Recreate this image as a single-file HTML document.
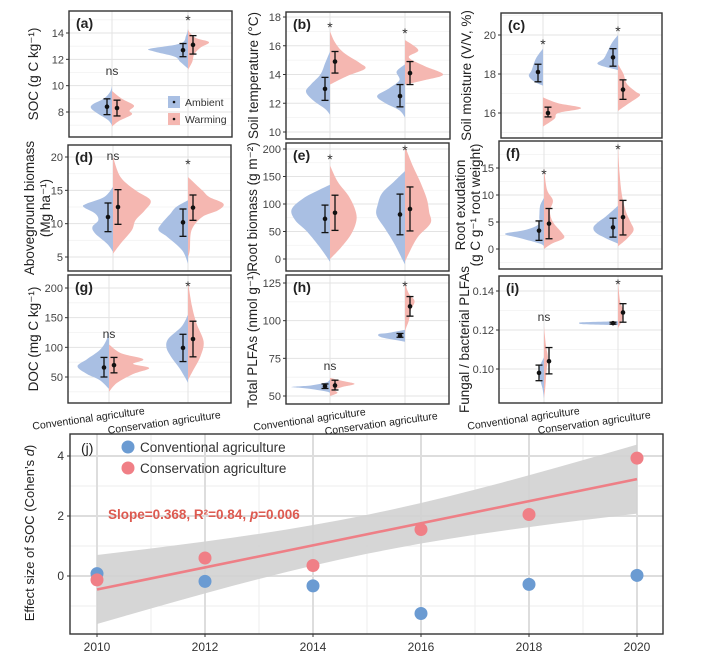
<!DOCTYPE html>
<html><head><meta charset="utf-8"><style>
html,body{margin:0;padding:0;background:#fff;}
svg{display:block;font-family:"Liberation Sans",sans-serif;}
</style></head><body>
<svg id="fig" width="701" height="659" viewBox="0 0 701 659" xmlns="http://www.w3.org/2000/svg"></svg>
<script>
// ---------- DATA (order: conv-ambient, conv-warming, cons-ambient, cons-warming) ----------
const A_ticks=[8,10,12,14];
const A_means=[8.4,8.3,12.7,13.1];
const A_lo=[7.8,7.7,12.2,12.4];
const A_hi=[9.0,8.9,13.2,13.8];
const A_peak=[0.70,0.73,1.27,0.70];
const A_viol=[[[10,0],[9.5,0.1],[9,0.4],[8.6,0.9],[8.3,1],[7.9,0.7],[7.4,0.2],[7,0]],
 [[9.6,0],[9,0.45],[8.5,1],[8.1,0.8],[7.8,0.9],[7.3,0.3],[6.9,0]],
 [[14.3,0],[13.8,0.05],[13.2,0.2],[12.8,1],[12.6,0.9],[12.2,0.35],[11.8,0.2],[11.3,0]],
 [[14.3,0],[14,0.1],[13.6,0.4],[13.3,1],[12.9,0.6],[12.4,0.3],[11.8,0.2],[11.2,0]]];

const B_ticks=[10,12,14,16,18];
const B_means=[13.0,14.9,12.5,14.1];
const B_lo=[12.2,14.1,11.75,13.3];
const B_hi=[13.8,15.6,13.3,14.9];
const B_peak=[0.8,1.17,0.93,1.27];
const B_viol=[[[15.6,0],[14.8,0.2],[14,0.4],[13.3,0.8],[12.8,1],[12.2,0.7],[11.6,0.2],[11.2,0]],
 [[17,0],[16.2,0.15],[15.5,0.4],[14.8,0.85],[14.4,1],[13.9,0.5],[13.3,0]],
 [[14.7,0],[14.2,0.3],[13.6,0.2],[13,0.6],[12.5,1],[12,0.7],[11.5,0.2],[11,0]],
 [[16.4,0],[15.7,0.35],[15.2,0.1],[14.6,0.5],[14,1],[13.6,0.5],[13.3,0]]];

const C_ticks=[16,18,20];
const C_means=[18.1,16.0,18.85,17.2];
const C_lo=[17.6,15.8,18.4,16.7];
const C_hi=[18.5,16.3,19.3,17.7];
const C_peak=[0.47,1.27,0.67,0.73];
const C_viol=[[[19.3,0],[18.8,0.5],[18.2,0.8],[17.9,1],[17.6,0.6],[17.4,0]],
 [[16.8,0],[16.5,0.4],[16.25,1],[16,0.4],[15.7,0.3],[15.3,0]],
 [[20,0],[19.6,0.3],[19.2,0.5],[18.8,0.7],[18.5,1],[18.2,0]],
 [[18.5,0],[18,0.25],[17.5,0.4],[17.1,0.8],[16.9,1],[16.5,0.5],[16.1,0]]];

const D_ticks=[5,10,15,20];
const D_means=[11.0,12.5,10.2,12.4];
const D_lo=[8.8,9.9,8.1,10.5];
const D_hi=[13.1,15.1,12.2,14.3];
const D_peak=[0.98,1.25,0.98,1.18];
const D_viol=[[[15.5,0],[14,0.3],[13,0.9],[12.5,1],[11.5,0.6],[10.5,0.5],[9.5,0.7],[8.5,0.6],[7,0.2],[5.8,0]],
 [[20,0],[17,0.2],[15,0.6],[13.5,1],[12,0.85],[10.5,0.6],[9,0.5],[7,0.2],[5.5,0]],
 [[13.5,0],[12.5,0.4],[11.5,0.6],[10,0.9],[9,1],[8,0.7],[6,0.2],[4,0]],
 [[17,0],[15,0.4],[14,0.6],[13,1],[12,0.85],[11,0.4],[9,0.1],[6,0.05],[5,0]]];

const E_ticks=[0,50,100,150,200];
const E_means=[73,84,81,91];
const E_lo=[48,52,44,51];
const E_hi=[98,116,118,131];
const E_peak=[1.28,0.88,0.95,0.85];
const E_viol=[[[135,0],[125,0.3],[110,0.7],[90,1],[70,0.9],[50,0.6],[20,0.25],[-5,0]],
 [[170,0],[140,0.3],[115,0.7],[90,0.95],[70,1],[45,0.8],[20,0.4],[0,0]],
 [[160,0],[140,0.4],[120,0.8],[100,0.95],[80,1],[55,0.7],[30,0.4],[0,0.1],[-10,0]],
 [[205,0],[170,0.3],[140,0.6],[110,0.85],[85,0.95],[65,1],[40,0.5],[10,0.15],[-5,0]]];

const F_ticks=[0,5,10,15];
const F_means=[3.4,4.7,4.0,5.9];
const F_lo=[1.6,1.9,2.2,2.6];
const F_hi=[5.2,7.5,5.7,9.0];
const F_peak=[1.3,0.66,0.82,0.52];
const F_viol=[[[9.5,0],[8,0.1],[6,0.12],[4.5,0.15],[3.5,0.5],[2.8,1],[2,0.6],[1,0.1],[0.5,0]],
 [[15,0],[11,0.15],[9,0.45],[7,0.3],[5,0.45],[3,0.9],[2,1],[1,0.4],[0,0]],
 [[8,0],[6,0.5],[5,0.8],[4,1],[3,0.9],[2,0.5],[1,0]],
 [[19,0],[14,0.1],[10,0.25],[7,0.5],[5,0.8],[3.5,1],[2,0.6],[0.5,0]]];

const G_ticks=[50,100,150,200];
const G_means=[66,70,99,114];
const G_lo=[50,57,76,84];
const G_hi=[83,83,122,144];
const G_peak=[1.05,1.34,0.72,0.52];
const G_viol=[[[125,0],[110,0.1],[95,0.3],[80,0.7],[68,1],[55,0.7],[45,0.3],[30,0]],
 [[105,0],[90,0.3],[80,0.85],[72,0.6],[65,1],[55,0.6],[40,0.2],[25,0]],
 [[155,0],[135,0.3],[115,0.9],[100,1],[85,0.8],[65,0.4],[50,0.15],[40,0]],
 [[210,0],[170,0.25],[140,0.55],[110,1],[85,0.8],[60,0.3],[45,0]]];

const H_ticks=[50,75,100,125];
const H_means=[56.5,57,90,109.5];
const H_lo=[55,54,89,103];
const H_hi=[58,60.5,91.5,116];
const H_peak=[1.28,0.82,0.88,0.32];
const H_viol=[[[61,0],[59,0.1],[57,0.5],[56,1],[55,0.6],[53,0.1],[52,0]],
 [[62,0],[60,0.5],[58,1],[56,0.5],[54,0.2],[52,0.3],[50,0]],
 [[94,0],[92,0.6],[91,1],[89,0.9],[87,0.3],[86,0]],
 [[125,0],[118,0.4],[113,1],[107,0.6],[100,0.4],[95,0.1],[92,0]]];

const I_ticks=[0.10,0.12,0.14];
const I_means=[0.098,0.104,0.1235,0.129];
const I_lo=[0.094,0.0975,0.123,0.124];
const I_hi=[0.102,0.111,0.124,0.1335];
const I_peak=[0.17,0.13,1.28,0.17];
const I_viol=[[[0.106,0],[0.1,1],[0.095,0.8],[0.09,0.3],[0.085,0]],
 [[0.122,0],[0.112,0.5],[0.106,1],[0.1,0.7],[0.09,0.3],[0.085,0]],
 [[0.1245,0],[0.124,0.9],[0.1235,1],[0.123,0.9],[0.1225,0]],
 [[0.145,0],[0.135,0.4],[0.13,1],[0.125,0.8],[0.121,0]]];

// panel (j)
const J_years=[2010,2012,2014,2016,2018,2020];
const J_conventional=[0.08,-0.18,-0.33,-1.25,-0.28,0.02];
const J_conservation=[-0.13,0.6,0.35,1.55,2.05,3.93];
const J_xticks=[2010,2012,2014,2016,2018,2020];
const J_yticks=[0,2,4];
const J_fit=[-0.45,0.368]; // value at 2010, slope per year
const J_ciScale=[1.59];

// ---------- LAYOUT ----------
const NS="http://www.w3.org/2000/svg";
const svg=document.getElementById('fig');
function el(tag,attrs,parent){const e=document.createElementNS(NS,tag);for(const k in attrs)e.setAttribute(k,attrs[k]);(parent||svg).appendChild(e);return e;}
function smooth(p){let d=`M${p[0][0].toFixed(1)},${p[0][1].toFixed(1)}`;const n=p.length;
 for(let i=0;i<n-1;i++){const p0=p[Math.max(i-1,0)],p1=p[i],p2=p[i+1],p3=p[Math.min(i+2,n-1)];
 const c1=[p1[0]+(p2[0]-p0[0])/6,p1[1]+(p2[1]-p0[1])/6],c2=[p2[0]-(p3[0]-p1[0])/6,p2[1]-(p3[1]-p1[1])/6];
 d+=` C${c1[0].toFixed(1)},${c1[1].toFixed(1)} ${c2[0].toFixed(1)},${c2[1].toFixed(1)} ${p2[0].toFixed(1)},${p2[1].toFixed(1)}`;}
 return d+' Z';}

const panels=[
 {id:'a',box:[69,11,232,137],xc:[112,188],ref:[14,33,8,112],ticks:A_ticks,means:A_means,lo:A_lo,hi:A_hi,peak:A_peak,viol:A_viol,dec:0,
  title:['SOC (g C kg⁻¹)'],tx:[33],sig:[['ns',0,71],['*',1,21]],legend:true},
 {id:'b',box:[286,12,450,139],xc:[330,405],ref:[18,17,10,132],ticks:B_ticks,means:B_means,lo:B_lo,hi:B_hi,peak:B_peak,viol:B_viol,dec:0,
  title:['Soil temperature (°C)'],tx:[253],sig:[['*',0,28],['*',1,34]]},
 {id:'c',box:[501,13,662,138],xc:[543,618],ref:[20,35,16,113],ticks:C_ticks,means:C_means,lo:C_lo,hi:C_hi,peak:C_peak,viol:C_viol,dec:0,
  title:['Soil moisture (V/V, %)'],tx:[466],sig:[['*',0,45],['*',1,32]]},
 {id:'d',box:[68,145,231,271],xc:[113,188],ref:[20,157,5,257],ticks:D_ticks,means:D_means,lo:D_lo,hi:D_hi,peak:D_peak,viol:D_viol,dec:0,
  title:['Aboveground biomass','(Mg ha⁻¹)'],tx:[29,45],sig:[['ns',0,156],['*',1,165]]},
 {id:'e',box:[286,143,449,271],xc:[330,405],ref:[200,149,0,259],ticks:E_ticks,means:E_means,lo:E_lo,hi:E_hi,peak:E_peak,viol:E_viol,dec:0,
  title:['Root biomass (g m⁻²)'],tx:[252],sig:[['*',0,160],['*',1,151]]},
 {id:'f',box:[499,141,662,269],xc:[544,618],ref:[15,168,0,249],ticks:F_ticks,means:F_means,lo:F_lo,hi:F_hi,peak:F_peak,viol:F_viol,dec:0,
  title:['Root exudation','(g C g⁻¹ root weight)'],tx:[460,475],sig:[['*',0,175],['*',1,150]]},
 {id:'g',box:[68,275,231,403],xc:[109,188],ref:[200,288,50,377],ticks:G_ticks,means:G_means,lo:G_lo,hi:G_hi,peak:G_peak,viol:G_viol,dec:0,
  title:['DOC (mg C kg⁻¹)'],tx:[33],sig:[['ns',0,334],['*',1,287]],cats:true},
 {id:'h',box:[286,275,449,404],xc:[330,405],ref:[125,283,50,396],ticks:H_ticks,means:H_means,lo:H_lo,hi:H_hi,peak:H_peak,viol:H_viol,dec:0,
  title:['Total PLFAs (nmol g⁻¹)'],tx:[252],sig:[['ns',0,366],['*',1,287]],cats:true},
 {id:'i',box:[499,276,662,403],xc:[544,618],ref:[0.14,291,0.10,369],ticks:I_ticks,means:I_means,lo:I_lo,hi:I_hi,peak:I_peak,viol:I_viol,dec:2,
  title:['Fungal / bacterial PLFAs'],tx:[464],sig:[['ns',0,317],['*',1,285]],cats:true}
];
const BLUE='#a9bfe3', PINK='#f5b7b1';

panels.forEach(P=>{
 const [x0,y0,x1,y1]=P.box;
 const k=(P.ref[3]-P.ref[1])/(P.ref[2]-P.ref[0]);
 const Y=v=>P.ref[1]+(v-P.ref[0])*k;
 const g=el('g',{});
 
 
 const clip=el('clipPath',{id:'clip'+P.id},g);el('rect',{x:x0,y:y0,width:x1-x0,height:y1-y0},clip);
 const step=P.ticks[1]-P.ticks[0];
 const minors=[];P.ticks.forEach(t=>{minors.push(t-step/2);});minors.push(P.ticks[P.ticks.length-1]+step/2);
 minors.forEach(m=>{const y=Y(m);if(y>y0&&y<y1){el('line',{x1:x0,x2:x1,y1:y,y2:y,stroke:'#f2f2f2','stroke-width':0.8},g);}});
 P.ticks.forEach(t=>{const y=Y(t);const l=el('line',{x1:x0,x2:x1,y1:y,y2:y,stroke:'#e3e3e3','stroke-width':1},g);
  
  });
 P.xc.forEach(x=>{el('line',{x1:x,x2:x,y1:y0,y2:y1,stroke:'#e3e3e3','stroke-width':1},g);});
 const vg=el('g',{'clip-path':`url(#clip${P.id})`},g);
 for(let i=0;i<4;i++){
  const cx=P.xc[i<2?0:1], side=(i%2===0)?-1:1;
  const pts=P.viol[i].map(([v,d])=>[cx+side*d*P.peak[i]*30,Y(v)]);
  const p=el('path',{d:smooth(pts),fill:side<0?BLUE:PINK,stroke:'none'},vg);
  
  
 }
 for(let i=0;i<4;i++){
  const cx=P.xc[i<2?0:1]+((i%2===0)?-5:5);
  const eg=el('g',{},g);
  
  
  el('line',{x1:cx,x2:cx,y1:Y(P.lo[i]),y2:Y(P.hi[i]),stroke:'#111','stroke-width':1.3},eg);
  el('line',{x1:cx-3.5,x2:cx+3.5,y1:Y(P.lo[i]),y2:Y(P.lo[i]),stroke:'#111','stroke-width':1.3},eg);
  el('line',{x1:cx-3.5,x2:cx+3.5,y1:Y(P.hi[i]),y2:Y(P.hi[i]),stroke:'#111','stroke-width':1.3},eg);
  el('circle',{cx:cx,cy:Y(P.means[i]),r:2.3,fill:'#111'},eg);
 }
 const fr=el('rect',{x:x0,y:y0,width:x1-x0,height:y1-y0,fill:'none',stroke:'#333','stroke-width':1.4},g);
 
 
 P.ticks.forEach(t=>{const y=Y(t);
  el('line',{x1:x0-3,x2:x0,y1:y,y2:y,stroke:'#333','stroke-width':1},g);
  const tx=el('text',{x:x0-5,y:y+4,'text-anchor':'end','font-size':11,fill:'#444'},g);
  tx.textContent=t.toFixed(P.dec);
  
  });
 const pl=el('text',{x:x0+7,y:y0+17,'font-size':14,'font-weight':'bold',fill:'#222'},g);
 pl.textContent='('+P.id+')';
 
 
 const cy=(y0+y1)/2;
 P.title.forEach((t,j)=>{const tt=el('text',{x:P.tx[j],y:cy,'text-anchor':'middle','font-size':13.5,fill:'#222',transform:`rotate(-90 ${P.tx[j]} ${cy})`,dy:5},g);
  tt.textContent=t;
  
  });
 P.sig.forEach(([s,ci,y])=>{const st=el('text',{x:P.xc[ci],y:y+4,'text-anchor':'middle','font-size':s==='*'?14:12,fill:'#333'},g);
  st.textContent=s;
  
  });
 if(P.cats){
  const c1=el('text',{x:P.xc[0]+36,y:y1+11,'text-anchor':'end','font-size':10.5,fill:'#222',transform:`rotate(-8 ${P.xc[0]+36} ${y1+11})`},g);
  c1.textContent='Conventional agriculture';
  
  
  const c2=el('text',{x:P.xc[1]+33,y:y1+15,'text-anchor':'end','font-size':10.5,fill:'#222',transform:`rotate(-8 ${P.xc[1]+33} ${y1+15})`},g);
  c2.textContent='Conservation agriculture';
  
  
 }
 if(P.legend){
  const lg=el('g',{},g);
  
  
  [['Ambient',BLUE,96],['Warming',PINK,113]].forEach(([t,c,y])=>{
   el('rect',{x:168,y:y,width:12,height:12,fill:c},lg);
   el('circle',{cx:174,cy:y+6,r:1.3,fill:'#111'},lg);
   const lt=el('text',{x:185,y:y+10,'font-size':10.5,fill:'#333'},lg);
   lt.textContent=t;
   
   
  });
 }
});

// ---------- PANEL J ----------
(function(){
 const x0=70,y0=434,x1=663,y1=634;
 const X=yr=>97+(yr-2010)*54;
 const Y=v=>576-v*30;
 const g=el('g',{});
 
 
 const clip=el('clipPath',{id:'clipj'},g);el('rect',{x:x0,y:y0,width:x1-x0,height:y1-y0},clip);
 [-1,1,3].forEach(v=>el('line',{x1:x0,x2:x1,y1:Y(v),y2:Y(v),stroke:'#eeeeee','stroke-width':1},g));
 [2011,2013,2015,2017,2019].forEach(v=>el('line',{x1:X(v),x2:X(v),y1:y0,y2:y1,stroke:'#eeeeee','stroke-width':1},g));
 J_yticks.forEach(v=>el('line',{x1:x0,x2:x1,y1:Y(v),y2:Y(v),stroke:'#dddddd','stroke-width':2},g));
 J_xticks.forEach(v=>el('line',{x1:X(v),x2:X(v),y1:y0,y2:y1,stroke:'#dddddd','stroke-width':2},g));
 const cg=el('g',{'clip-path':'url(#clipj)'},g);
 const fit=yr=>J_fit[0]+J_fit[1]*(yr-2010);
 const hw=yr=>J_ciScale[0]*Math.sqrt(1/6+Math.pow(yr-2015,2)/70);
 const up=[],dn=[];for(let yr=2010;yr<=2020.001;yr+=0.5){up.push(`${X(yr)},${Y(fit(yr)+hw(yr))}`);dn.unshift(`${X(yr)},${Y(fit(yr)-hw(yr))}`);}
 const band=el('polygon',{points:up.concat(dn).join(' '),fill:'#d2d2d2','fill-opacity':0.9},cg);
 
 
 const ln=el('line',{x1:X(2010),y1:Y(fit(2010)),x2:X(2020),y2:Y(fit(2020)),stroke:'#ee7f86','stroke-width':2.6},cg);
 
 
 J_years.forEach((yr,i)=>{
  const c=el('circle',{cx:X(yr),cy:Y(J_conventional[i]),r:6.5,fill:'#6b9bd2'},g);
  
  
 });
 J_years.forEach((yr,i)=>{
  const c=el('circle',{cx:X(yr),cy:Y(J_conservation[i]),r:6.5,fill:'#f07f86'},g);
  
  
 });
 const fr=el('rect',{x:x0,y:y0,width:x1-x0,height:y1-y0,fill:'none',stroke:'#333','stroke-width':1.4},g);
 
 
 J_yticks.forEach(v=>{el('line',{x1:x0-3,x2:x0,y1:Y(v),y2:Y(v),stroke:'#333'},g);
  const t=el('text',{x:x0-6,y:Y(v)+4,'text-anchor':'end','font-size':12,fill:'#333'},g);
  t.textContent=v;
  
  });
 J_xticks.forEach(v=>{el('line',{x1:X(v),x2:X(v),y1:y1,y2:y1+3,stroke:'#333'},g);
  const t=el('text',{x:X(v),y:y1+17,'text-anchor':'middle','font-size':12,fill:'#333'},g);
  t.textContent=v;
  
  });
 const pl=el('text',{x:81,y:453,'font-size':14,fill:'#222'},g);
 pl.textContent='(j)';
 
 
 const yt=el('text',{x:34,y:533,'text-anchor':'middle','font-size':13,fill:'#222',transform:'rotate(-90 34 533)'},g);
 yt.innerHTML='Effect size of SOC (Cohen\u2019s <tspan font-style="italic">d</tspan>)';
 
 
 [['Conventional agriculture','#6b9bd2',447],['Conservation agriculture','#f07f86',468]].forEach(([t,c,y])=>{
  el('circle',{cx:128,cy:y,r:6.5,fill:c},g);
  const lt=el('text',{x:140,y:y+5,'font-size':13.5,fill:'#333'},g);
  lt.textContent=t;
  
  
 });
 const st=el('text',{x:108,y:519,'font-size':13.5,'font-weight':'bold',fill:'#dd5a50'},g);
 st.innerHTML='Slope=0.368, R²=0.84, <tspan font-style="italic">p</tspan>=0.006';
 
 
})();
</script>
</body></html>
